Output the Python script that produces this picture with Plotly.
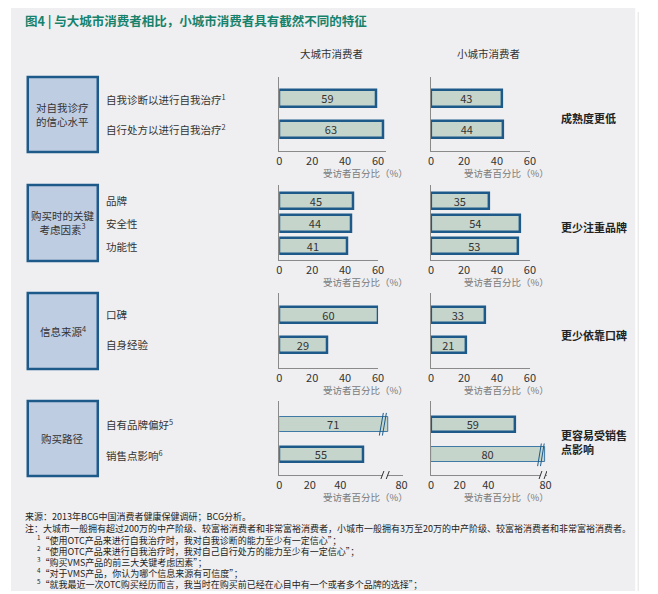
import plotly.graph_objects as go

# ---------------- data ----------------
title_text = "图4 | 与大城市消费者相比，小城市消费者具有截然不同的特征"
col_headers = ["大城市消费者", "小城市消费者"]

group_names = ["对自我诊疗<br>的信心水平", "购买时的关键<br>考虑因素<sup>3</sup>", "信息来源<sup>4</sup>", "购买路径"]
group_conclusions = ["成熟度更低", "更少注重品牌", "更少依靠口碑", "更容易受销售<br>点影响"]

conf_labels = ["自我诊断以进行自我治疗<sup>1</sup>", "自行处方以进行自我治疗<sup>2</sup>"]
conf_big = [59, 63]
conf_small = [43, 44]

factor_labels = ["品牌", "安全性", "功能性"]
factor_big = [45, 44, 41]
factor_small = [35, 54, 53]

info_labels = ["口碑", "自身经验"]
info_big = [60, 29]
info_small = [33, 21]

path_labels = ["自有品牌偏好<sup>5</sup>", "销售点影响<sup>6</sup>"]
path_big = [71, 55]
path_small = [59, 80]
path_big_broken = [True, False]
path_small_broken = [False, True]

ticks_60 = [0, 20, 40, 60]
ticks_80 = [0, 20, 40, 80]
axis_title = "受访者百分比（%）"

footnotes = [
    "来源：2013年BCG中国消费者健康保健调研；BCG分析。",
    "注：大城市一般拥有超过200万的中产阶级、较富裕消费者和非常富裕消费者，小城市一般拥有3万至20万的中产阶级、较富裕消费者和非常富裕消费者。",
    "<sup>1</sup>“使用OTC产品来进行自我治疗时，我对自我诊断的能力至少有一定信心”；",
    "<sup>2</sup>“使用OTC产品来进行自我治疗时，我对自己自行处方的能力至少有一定信心”；",
    "<sup>3</sup>“购买VMS产品的前三大关键考虑因素”；",
    "<sup>4</sup>“对于VMS产品，你认为哪个信息来源有可信度”；",
    "<sup>5</sup>“就我最近一次OTC购买经历而言，我当时在购买前已经在心目中有一个或者多个品牌的选择”；",
]

# ---------------- styling / geometry ----------------
PAGE_OFF = 8            # browser body margin
FW, FH = 650, 586       # figure size (page 658x594 minus body margin)
FONT = "Noto Sans CJK SC"
BG = "#efeff1"
BAR_FILL = "#c5d5cc"
BAR_LINE = "#1d5a8a"
BAR_LINE_THIN = "#3f7aa6"
BOX_FILL = "#bfcde3"
TEXT = "#333333"
AXIS = "#8a8a8a"


def px(x):
    return (x - PAGE_OFF) / FW


def py(y):
    return 1 - (y - PAGE_OFF) / FH


panels = [
    dict(labels=conf_labels, big=conf_big, small=conf_small, top=77, bot=151,
         yr=(-0.7, 1.7), bw=0.55, ticks=ticks_60,
         big_rng=65, small_rng=60, big_scale=1.67, small_scale=1.67,
         big_broken=[False, False], small_broken=[False, False]),
    dict(labels=factor_labels, big=factor_big, small=factor_small, top=185, bot=260,
         yr=(-0.71, 2.62), bw=0.72, ticks=ticks_60,
         big_rng=60, small_rng=60, big_scale=1.67, small_scale=1.67,
         big_broken=[False] * 3, small_broken=[False] * 3),
    dict(labels=info_labels, big=info_big, small=info_small, top=293, bot=368,
         yr=(-0.73, 1.77), bw=0.53, ticks=ticks_60,
         big_rng=60, small_rng=60, big_scale=1.67, small_scale=1.67,
         big_broken=[False, False], small_broken=[False, False]),
    dict(labels=path_labels, big=path_big, small=path_small, top=401, bot=475,
         yr=(-0.76, 1.66), bw=0.5, ticks=ticks_80,
         big_rng=81, small_rng=81, big_scale=1.55, small_scale=1.45,
         big_broken=path_big_broken, small_broken=path_small_broken,
         axis_break=(68.5, 77.5)),
]

X0 = [280, 434]

fig = go.Figure()
layout_axes = {}
shapes = []
annotations = []

# background panel
shapes.append(dict(type="rect", xref="paper", yref="paper", x0=px(8), x1=px(641),
                   y0=py(591), y1=py(5), fillcolor=BG, line=dict(width=0), layer="below"))
shapes.append(dict(type="line", xref="paper", yref="paper", x0=px(644), x1=px(644),
                   y0=py(591), y1=py(12), line=dict(color="#e2e2e2", width=1), layer="below"))

# title + headers
annotations.append(dict(text="<b>" + title_text + "</b>", x=px(20), y=py(21), xref="paper", yref="paper",
                        xanchor="left", yanchor="middle", showarrow=False,
                        font=dict(family=FONT, size=12.5, color="#16826c")))
for cx, t in zip([333, 492], col_headers):
    annotations.append(dict(text=t, x=px(cx), y=py(53), xref="paper", yref="paper",
                            xanchor="center", yanchor="middle", showarrow=False,
                            font=dict(family=FONT, size=10.5, color=TEXT)))

n = 0
for pi, p in enumerate(panels):
    # group box
    shapes.append(dict(type="rect", xref="paper", yref="paper", x0=px(25), x1=px(96),
                       y0=py(p["bot"] + 1), y1=py(p["top"]), fillcolor=BOX_FILL,
                       line=dict(color=BAR_LINE, width=2.5)))
    annotations.append(dict(text=group_names[pi], x=px(60.5), y=py((p["top"] + p["bot"]) / 2),
                            xref="paper", yref="paper", xanchor="center", yanchor="middle",
                            showarrow=False, align="center",
                            font=dict(family=FONT, size=10.5, color=TEXT)))
    annotations.append(dict(text="<b>" + group_conclusions[pi] + "</b>", x=px(564),
                            y=py((p["top"] + p["bot"]) / 2 + 4), xref="paper", yref="paper",
                            xanchor="left", yanchor="middle", showarrow=False, align="left",
                            font=dict(family=FONT, size=11, color="#222222")))

    for ci, key in enumerate(["big", "small"]):
        n += 1
        xa, ya = f"x{n}", f"y{n}"
        xn, yn = f"xaxis{n}", f"yaxis{n}"
        vals = p[key]
        broken = p[key + "_broken"]
        rng = p[key + "_rng"]
        scale = p[key + "_scale"]
        x_start = X0[ci]
        x_end = x_start + rng * scale
        cats = list(range(len(vals)))

        fig.add_trace(go.Bar(
            x=vals, y=cats, orientation="h", xaxis=xa, yaxis=ya, width=p["bw"],
            marker=dict(color=BAR_FILL,
                        line=dict(color=[BAR_LINE_THIN if b else BAR_LINE for b in broken],
                                  width=[1 if b else 2.5 for b in broken])),
            text=[str(v) for v in vals], textposition="inside", insidetextanchor="middle",
            textangle=0, constraintext="none",
            textfont=dict(family=FONT, size=11, color=TEXT), hoverinfo="skip",
            showlegend=False, cliponaxis=False,
        ))

        layout_axes[xn] = dict(domain=[px(x_start), px(x_end)], anchor=ya, range=[0, rng],
                               showline=True, linecolor=AXIS, linewidth=1, ticks="",
                               tickvals=p["ticks"], ticktext=[str(t) for t in p["ticks"]],
                               tickfont=dict(family=FONT, size=11, color=TEXT),
                               showgrid=False, zeroline=False, fixedrange=True)
        layout_axes[yn] = dict(domain=[py(p["bot"]), py(p["top"])], anchor=xa,
                               range=[p["yr"][1], p["yr"][0]], showline=True, linecolor=AXIS,
                               linewidth=1, showticklabels=False, ticks="", showgrid=False,
                               zeroline=False, fixedrange=True)

        # axis title
        annotations.append(dict(text=axis_title, x=px(x_start + 87 if ci == 0 else x_start + 76),
                                y=py(p["bot"] + 22), xref="paper", yref="paper",
                                xanchor="center", yanchor="middle", showarrow=False,
                                font=dict(family=FONT, size=9.5, color="#7a7a7a")))

        # category labels (only once, left side)
        if ci == 0:
            for c, lab in zip(cats, p["labels"]):
                annotations.append(dict(text=lab, x=px(102), y=c, xref="paper", yref=ya,
                                        xanchor="left", yanchor="middle", showarrow=False,
                                        font=dict(family=FONT, size=10.5, color=TEXT)))

        # break marks on broken bars
        for c, v, b in zip(cats, vals, broken):
            if b:
                for off in (-4.2, -2.2):
                    shapes.append(dict(type="line", xref=xa, yref=ya,
                                       x0=v + off - 1.3, x1=v + off + 1.3,
                                       y0=c + p["bw"] / 2 + 0.12, y1=c - p["bw"] / 2 - 0.12,
                                       line=dict(color=BAR_LINE, width=1)))
        # break mark on axis
        if "axis_break" in p:
            vb = p["axis_break"][ci]
            shapes.append(dict(type="line", xref=xa, yref="paper", x0=vb - 1, x1=vb + 2.5,
                               y0=py(p["bot"]), y1=py(p["bot"]), line=dict(color=BG, width=3)))
            for off in (-1, 2.5):
                shapes.append(dict(type="line", xref=xa, yref="paper",
                                   x0=vb + off - 1, x1=vb + off + 1,
                                   y0=py(p["bot"] + 4), y1=py(p["bot"] - 4),
                                   line=dict(color=TEXT, width=1)))

# footnotes
foot_y = [516, 528, 540, 551, 562, 573, 584]
foot_x = [20, 20, 32, 32, 32, 32, 32]
for t, fy, fx in zip(footnotes, foot_y, foot_x):
    annotations.append(dict(text=t, x=px(fx), y=py(fy), xref="paper", yref="paper",
                            xanchor="left", yanchor="middle", showarrow=False,
                            font=dict(family=FONT, size=9, color="#222222")))

fig.update_layout(
    width=FW, height=FH, margin=dict(l=0, r=0, t=0, b=0),
    paper_bgcolor="white", plot_bgcolor="rgba(0,0,0,0)",
    shapes=shapes, annotations=annotations, showlegend=False,
    font=dict(family=FONT, color=TEXT), bargap=0,
    **layout_axes,
)

fig.write_html("out.html", config={"displayModeBar": False})
